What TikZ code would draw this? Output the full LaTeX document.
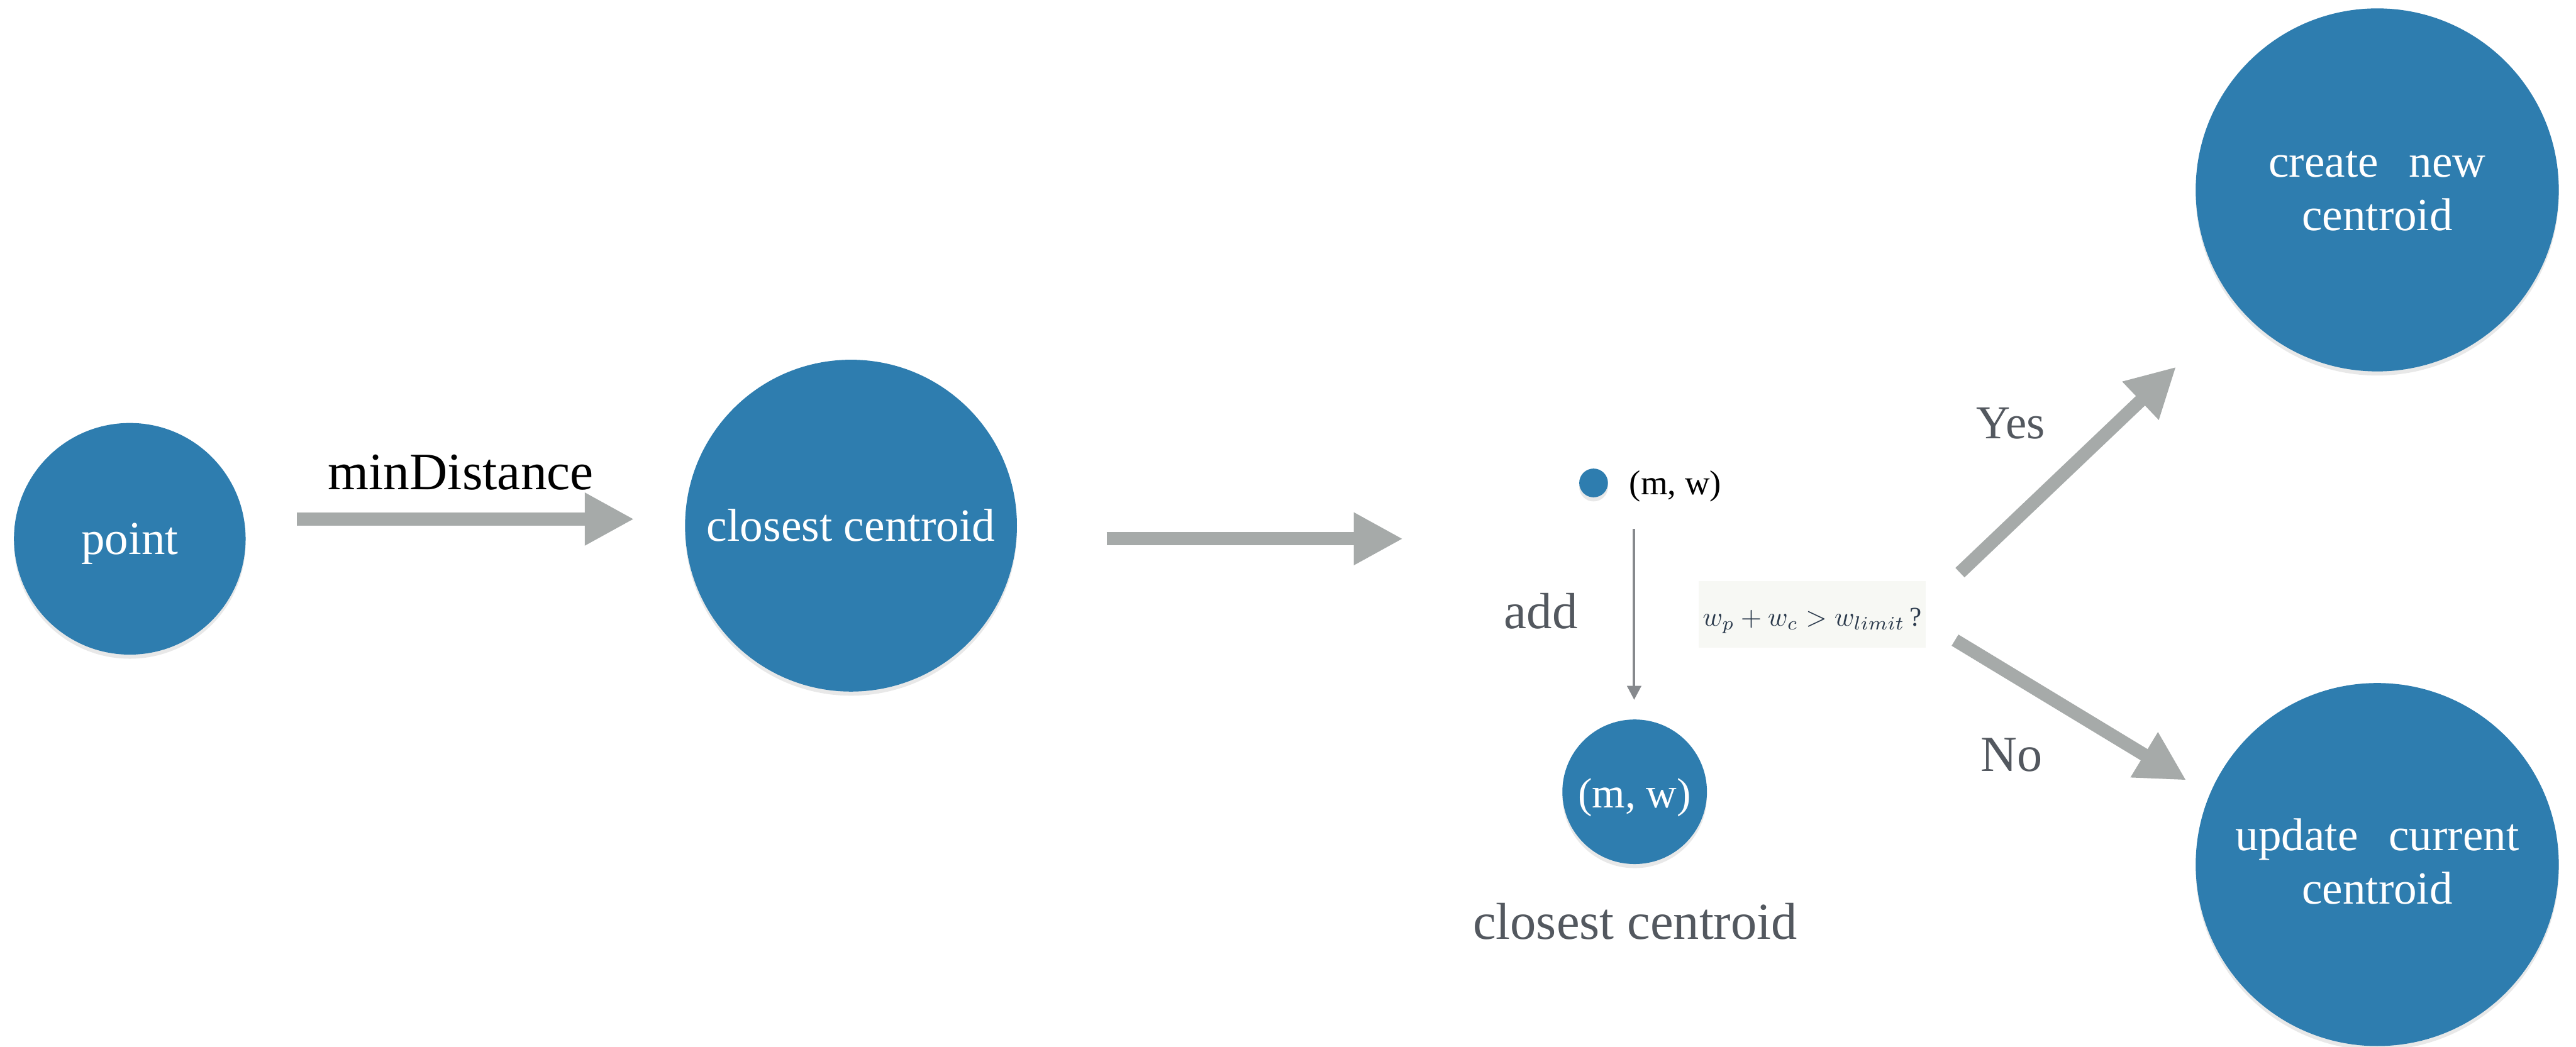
\documentclass[tikz,border=0pt]{standalone}
\usepackage{fontspec}
\setmainfont{Liberation Serif}
\usetikzlibrary{arrows.meta,shadows}

\definecolor{dotblue}{HTML}{2E7DAF}
\definecolor{arrowgray}{HTML}{A6AAA9}
\definecolor{labelgray}{HTML}{53585F}
\definecolor{thingray}{HTML}{86898D}
\definecolor{mathbg}{HTML}{F7F8F4}
\definecolor{mathink}{HTML}{2B3A4C}

\begin{document}
\begin{tikzpicture}[x=1pt, y=-1pt,
  blob/.style={circle, fill=dotblue, inner sep=0pt, text=white,
    drop shadow={shadow xshift=0pt, shadow yshift=-2.5pt, opacity=0.18}},
  twoline/.style={text width=200pt, align=center, font=\fontsize{28}{32.5}\selectfont},
  fatarrow/.style={draw=arrowgray, line width=8pt,
    -{Triangle[length=30pt, width=30pt]}},
  thinarrow/.style={draw=thingray, line width=1.5pt,
    -{Triangle[length=8.5pt, width=8.5pt]}},
  graylabel/.style={anchor=base, text=labelgray, inner sep=0pt},
]
\useasboundingbox (0,0) rectangle (1568,637);

% circles
\node[blob, minimum size=141pt, text depth=0pt, text height=19.2pt,
      font=\fontsize{28.7}{30}\selectfont] (point) at (79,328) {point};
\node[blob, minimum size=202pt, text depth=0pt, text height=18.8pt,
      font=\fontsize{28.1}{30}\selectfont] (closest) at (518,320) {closest centroid};
\node[blob, minimum size=17.5pt] (dot) at (970,294) {};
\node[blob, minimum size=88pt, text depth=0pt, text height=19.2pt,
      font=\fontsize{25.8}{28}\selectfont] (mw) at (995,482) {(m, w)};
\node[blob, minimum size=221pt, twoline, text height=0pt, text depth=15.6pt]
      (new) at (1447,115.6) {create\ \ new\\centroid};
\node[blob, minimum size=221pt, twoline, text height=0pt, text depth=16.8pt]
      (update) at (1447,526.3) {update\ \ current\\centroid};

% labels
\node[anchor=base, inner sep=0pt, font=\fontsize{32}{34}\selectfont]
      (mindist) at (280.5,298) {minDistance};
\node[anchor=base west, inner sep=0pt, font=\fontsize{21}{23}\selectfont]
      (mwsmall) at (991.6,301) {(m, w)};
\node[graylabel, font=\fontsize{31}{33}\selectfont] (add) at (938,382.7) {add};
\node[graylabel, font=\fontsize{31.6}{33}\selectfont] (cclabel) at (995.3,571.6) {closest centroid};
\node[graylabel, font=\fontsize{28.7}{30}\selectfont] (yes) at (1224,267) {Yes};
\node[graylabel, font=\fontsize{30.7}{32}\selectfont] (no) at (1224.3,469.4) {No};

% weight condition
\node[anchor=base, fill=mathbg, text=mathink, inner xsep=2.5pt, inner ysep=0pt,
      text height=27.4pt, text depth=13.2pt] (cond) at (1103,381)
      {\scalebox{1.65}{$w_p+w_c>w_{limit}$\,?}};

% connector end points
\coordinate (a1s) at (180.6,316);
\coordinate (a1e) at (386,316);
\coordinate (a2s) at (673.6,328);
\coordinate (a2e) at (854,328);
\coordinate (ds) at (994.7,322);
\coordinate (de) at (994.7,426);
\coordinate (ys) at (1193,348.6);
\coordinate (ye) at (1324.6,223.3);
\coordinate (ns) at (1190,389.7);
\coordinate (ne) at (1330.8,475);

% connectors
\draw[fatarrow] (a1s) -- (a1e);
\draw[fatarrow] (a2s) -- (a2e);
\draw[thinarrow] (ds) -- (de);
\draw[fatarrow] (ys) -- (ye);
\draw[fatarrow] (ns) -- (ne);
\end{tikzpicture}
\end{document}
